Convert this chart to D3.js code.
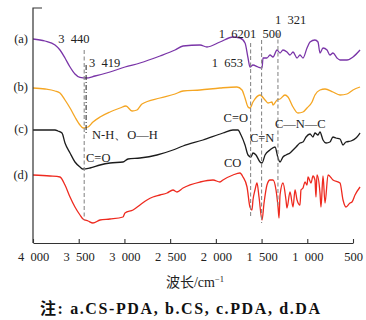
<!DOCTYPE html>
<html>
<head>
<meta charset="utf-8">
<script src="https://cdn.jsdelivr.net/npm/d3@7/dist/d3.min.js"></script>
<style>
  body { margin: 0; background: #fff; }
  svg { display: block; }
</style>
</head>
<body>
<script>
// FTIR spectra, wavenumber (cm-1) vs transmittance (a.u., curves offset)
const xTicks = [4000, 3500, 3000, 2500, 2000, 1500, 1000, 500]
const seriesLabels = ['(a)', '(b)', '(c)', '(d)']
const seriesColors = ['#7a35a8', '#f5a623', '#1c1c1c', '#ee2a1f']

const curveA = [[4000, 102], [3869, 101], [3759, 99], [3705, 96.5], [3650, 92.5], [3595, 88], [3541, 84.5],
  [3486, 82.8], [3420, 82.5], [3322, 83.5], [3158, 85.5], [2994, 88], [2830, 90], [2611, 93.5], [2447, 96.5],
  [2359, 98.5], [2173, 99], [2097, 98], [1955, 100.5], [1813, 103], [1736, 102.5], [1681, 100], [1648, 92.5],
  [1627, 88], [1594, 89], [1539, 88], [1495, 87.5], [1484, 92.5], [1441, 92.5], [1408, 94], [1375, 93],
  [1331, 96.5], [1298, 95], [1266, 96.5], [1222, 95.5], [1189, 94], [1156, 95.5], [1112, 92.5], [1080, 94],
  [1047, 92.5], [1003, 97.5], [970, 100.5], [916, 101.5], [883, 100.5], [861, 95], [828, 97.5], [784, 96.5],
  [752, 94], [719, 95], [675, 92.5], [642, 91.5], [566, 91.5], [500, 93], [423, 96.5]]

const curveB = [[4000, 77.5], [3869, 77], [3759, 76], [3705, 75], [3650, 71.5], [3595, 67.5], [3541, 63],
  [3486, 59], [3453, 57.5], [3398, 58], [3344, 60.5], [3267, 63], [3158, 65.5], [3048, 67.5], [2983, 68.5],
  [2917, 66], [2863, 66.5], [2808, 69.5], [2611, 72.5], [2447, 74.5], [2359, 76], [2173, 76.5], [1955, 77.5],
  [1769, 78], [1714, 76.5], [1681, 72.5], [1648, 68], [1627, 67.5], [1594, 70.5], [1517, 74], [1462, 71.5],
  [1430, 70], [1386, 70.5], [1375, 69], [1331, 71.5], [1298, 72], [1244, 74], [1211, 73], [1156, 68],
  [1102, 65], [1047, 65.5], [1003, 67.5], [948, 70.5], [916, 74], [861, 76.5], [806, 77], [719, 75.5],
  [642, 74], [566, 74.5], [500, 76.5], [423, 78]]

const curveC = [[4000, 56.5], [3759, 56.5], [3727, 56], [3683, 55], [3650, 50], [3595, 45], [3541, 40.5],
  [3486, 38], [3453, 37], [3377, 37.5], [3267, 39], [3158, 40], [3016, 40.5], [2961, 42], [2830, 42.5],
  [2644, 44], [2469, 46.5], [2359, 48.5], [2141, 51.5], [1922, 55], [1813, 56.5], [1758, 56.5], [1725, 54],
  [1681, 49], [1648, 44], [1616, 43], [1594, 45], [1561, 44], [1517, 40.5], [1495, 40], [1462, 44],
  [1408, 46.5], [1353, 48], [1320, 42.5], [1298, 40.5], [1266, 43], [1233, 44], [1189, 45], [1156, 46.5],
  [1123, 48], [1080, 50], [1047, 50.5], [1014, 53], [970, 54.5], [938, 53], [916, 55], [883, 54], [861, 55.5],
  [828, 51.5], [795, 50], [752, 50.5], [719, 53], [686, 52.5], [642, 52], [609, 49], [577, 50.5], [522, 51],
  [467, 52.5], [423, 55]]

const curveD = [[4000, 34], [3814, 33.5], [3705, 33], [3650, 29], [3595, 23], [3541, 18], [3486, 14],
  [3453, 12], [3398, 11], [3344, 10], [3267, 11.5], [3158, 12], [3016, 13], [2994, 15], [2906, 16.5],
  [2830, 19], [2753, 21.5], [2688, 23], [2611, 24], [2534, 25], [2469, 26.5], [2425, 25.5], [2359, 27.5],
  [2173, 30.5], [2031, 31.5], [1955, 30.5], [1922, 31.5], [1813, 34], [1736, 35], [1703, 33], [1659, 28],
  [1627, 18], [1605, 16.5], [1594, 21.5], [1572, 26.5], [1550, 30], [1528, 23], [1495, 11.5], [1473, 20],
  [1441, 29], [1408, 31.5], [1375, 31.5], [1342, 26.5], [1320, 18], [1309, 12.5], [1298, 24], [1266, 30],
  [1233, 21.5], [1222, 17.5], [1189, 25.5], [1156, 18], [1134, 26.5], [1112, 21.5], [1080, 19], [1069, 26.5],
  [1047, 27.5], [1025, 30.5], [1003, 29], [992, 33], [959, 30], [938, 33.5], [916, 31.5], [905, 23],
  [894, 34], [861, 25], [850, 18], [828, 33.5], [806, 20], [773, 34], [719, 31.5], [642, 30], [609, 21.5],
  [577, 18], [533, 20], [511, 20.5], [478, 24], [423, 28]]

const curves = [curveA, curveB, curveC, curveD]
const labelLevels = [102, 78, 57, 34]

// marker lines: wavenumber, top, bottom, dashed or dash-dot
const markers = [[3440, 96.5, 11.5, 'dash'], [3419, 89, 55, 'dashdot'], [1620, 100, 13, 'dash'],
  [1500, 101.5, 10, 'dash'], [1321, 105, 19, 'dash']]

// text notes: text, wavenumber, level, anchor
const notes = [['3\u2002440', 3552, 100, 'middle'], ['3\u2002419', 3387, 88, 'start'],
  ['N-H\u3001O\u2014H', 3355, 52, 'start'], ['C=O', 3420, 40.5, 'start'],
  ['1\u2002620', 1627, 102.5, 'end'], ['1\u2002500', 1627, 102.5, 'start'],
  ['1\u2002321', 1353, 109.5, 'start'], ['1\u2002653', 1703, 88, 'end'],
  ['C=O', 1648, 60.5, 'end'], ['C=N', 1627, 50.5, 'start'],
  ['C\u2014N\u2014C', 1353, 57.5, 'start'], ['CO', 1911, 38, 'start']]

const width = 366
const height = 320
const margin = { top: 8, right: 13, bottom: 77, left: 33 }

const svg = d3.select('body').append('svg')
  .attr('width', width)
  .attr('height', height)

const x = d3.scaleLinear().domain([4000, 500]).range([margin.left, width - margin.right])
const y = d3.scaleLinear().domain([0, 117.5]).range([height - margin.bottom, margin.top])

const serif = '"Liberation Serif", "Times New Roman", serif'

// curves
const line = d3.line()
  .x(d => x(d[0]))
  .y(d => y(d[1]))
  .curve(d3.curveMonotoneX)

svg.append('g')
  .selectAll('path')
  .data(curves)
  .join('path')
  .attr('fill', 'none')
  .attr('stroke', (d, i) => seriesColors[i])
  .attr('stroke-width', 1.3)
  .attr('stroke-linejoin', 'round')
  .attr('d', line)

// marker lines
svg.append('g')
  .selectAll('line')
  .data(markers)
  .join('line')
  .attr('x1', d => x(d[0]))
  .attr('x2', d => x(d[0]))
  .attr('y1', d => y(d[1]))
  .attr('y2', d => y(d[2]))
  .attr('stroke', d => d[3] === 'dash' ? '#8a8a8a' : '#333')
  .attr('stroke-width', 1.1)
  .attr('stroke-dasharray', d => d[3] === 'dash' ? '4,2.5' : '5,2,1,2')

// notes
svg.append('g')
  .attr('font-family', serif)
  .attr('font-size', 12.5)
  .attr('fill', '#222')
  .selectAll('text')
  .data(notes)
  .join('text')
  .attr('x', d => x(d[1]))
  .attr('y', d => y(d[2]))
  .attr('text-anchor', d => d[3])
  .text(d => d[0])

// series labels
svg.append('g')
  .attr('font-family', serif)
  .attr('font-size', 12.5)
  .attr('fill', '#222')
  .selectAll('text')
  .data(seriesLabels)
  .join('text')
  .attr('x', margin.left - 5)
  .attr('y', (d, i) => y(labelLevels[i]) + 4)
  .attr('text-anchor', 'end')
  .text(d => d)

// axes
const axis = svg.append('g')
  .attr('transform', `translate(0,${height - margin.bottom})`)
  .call(d3.axisBottom(x).tickValues(xTicks).tickSizeInner(-4).tickSizeOuter(0).tickPadding(9)
    .tickFormat(d => d3.format(',')(d).replace(',', '\u2002')))
axis.select('.domain').attr('stroke', '#333').attr('stroke-width', 1.2)
axis.selectAll('.tick line').attr('stroke', '#333').attr('stroke-width', 1.1)
axis.selectAll('.tick text')
  .attr('font-family', serif)
  .attr('font-size', 12.5)
  .attr('fill', '#222')

svg.append('path')
  .attr('d', `M${margin.left + 9},${margin.top}H${margin.left}V${height - margin.bottom}`)
  .attr('fill', 'none')
  .attr('stroke', '#333')
  .attr('stroke-width', 1.2)

// axis title
const title = svg.append('text')
  .attr('x', 195)
  .attr('y', 287)
  .attr('text-anchor', 'middle')
  .attr('font-size', 14)
  .attr('fill', '#222')
title.append('tspan').attr('font-family', '"Noto Sans CJK SC", sans-serif').text('波长')
title.append('tspan').attr('font-family', serif).text('/cm')
title.append('tspan').attr('font-family', serif).attr('font-size', 8.5).attr('dy', -5).text('\u22121')

// footnote
svg.append('text')
  .attr('x', 40)
  .attr('y', 314)
  .attr('font-family', `${serif}, "Noto Sans CJK SC"`)
  .attr('font-weight', 'bold')
  .attr('font-size', 16)
  .attr('fill', '#111')
  .attr('textLength', 280)
  .attr('lengthAdjust', 'spacing')
  .text('注: a.CS-PDA, b.CS, c.PDA, d.DA')
</script>
</body>
</html>
